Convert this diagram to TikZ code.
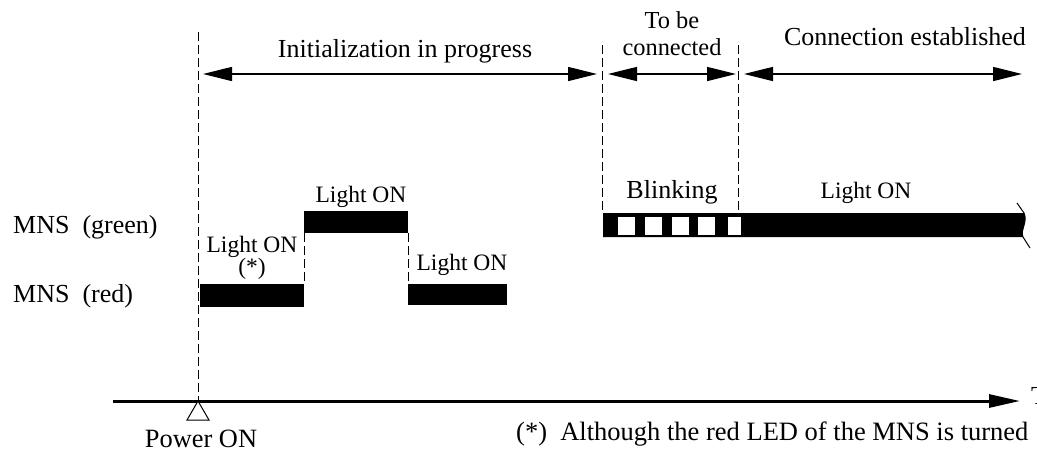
\documentclass[tikz,border=0pt]{standalone}
\usepackage{fontspec}
\setmainfont{Liberation Serif}
\usetikzlibrary{arrows.meta}
\begin{document}
\begin{tikzpicture}[x=1pt,y=-1pt,
  lbl/.style={font=\fontsize{26}{27}\selectfont, inner sep=0pt, anchor=base},
  small/.style={font=\fontsize{23.5}{19.5}\selectfont, inner sep=0pt, anchor=base},
  guide/.style={line width=1pt, dash pattern=on 9pt off 4pt},
  span/.style={line width=1.3pt, {Triangle[length=29pt,width=14pt]}-{Triangle[length=29pt,width=14pt]}},
  led/.style={fill=black, draw=none},
  sq/.style={fill=white, draw=none}]
\useasboundingbox (0,0) rectangle (1037,453);
% guide lines
\coordinate (p0) at (198,32);
\coordinate (p1) at (198,401);
\draw[guide] (p0) -- (p1);
\coordinate (c0) at (602,45);
\coordinate (c1) at (602,213);
\draw[guide] (c0) -- (c1);
\coordinate (e0) at (738,45);
\coordinate (e1) at (738,213);
\draw[guide] (e0) -- (e1);
% phase arrows
\coordinate (a1) at (203,74); \coordinate (a2) at (597,74);
\coordinate (b1) at (608,74); \coordinate (b2) at (736,74);
\coordinate (d1) at (744,74); \coordinate (d2) at (1022,74);
\draw[span] (a1) -- (a2);
\draw[span] (b1) -- (b2);
\draw[span] (d1) -- (d2);
\node[lbl] (tinit) at (405,57) {Initialization in progress};
\node[font=\fontsize{24.4}{27}\selectfont, inner sep=0pt, anchor=base, align=center] (tconn) at (672,55) {To be\\connected};
\node[lbl] (test) at (905,45) {Connection established};
% row labels
\node[lbl, anchor=base west] (green) at (13,233) {MNS\ \ (green)};
\node[lbl, anchor=base west] (red) at (13,302) {MNS\ \ (red)};
% red and green bars of initialization
\fill[led] (200,284) rectangle (304,307);
\fill[led] (304,211) rectangle (408,233);
\fill[led] (408,284) rectangle (507,305);
\coordinate (s1a) at (304,233); \coordinate (s1b) at (304,284);
\coordinate (s2a) at (408,233); \coordinate (s2b) at (408,284);
\draw[guide] (s1a) -- (s1b);
\draw[guide] (s2a) -- (s2b);
\node[small, align=center] (l1) at (252,274.5) {Light ON\\(*)};
\node[small] (l2) at (361,202) {Light ON};
\node[small] (l3) at (462,270) {Light ON};
% green bar connecting/established
\fill[led] (603,213) -- (1024,213) .. controls (1028,222) and (1020,230) .. (1023,237) -- (603,237) -- cycle;
\foreach \x in {618,645,672,698} \fill[sq] (\x,217) rectangle ++(17,18);
\fill[sq] (728,217) rectangle (741,235);
\draw[line width=1pt] (1017,203) -- (1024,213) .. controls (1028,222) and (1020,230) .. (1023,237) -- (1030,248);
\node[lbl] (l4) at (672,198) {Blinking};
\node[small] (l5) at (866,198) {Light ON};
% time axis
\coordinate (t0) at (113,401);
\coordinate (t1) at (1020,401);
\draw[line width=3pt, -{Triangle[length=31pt,width=13pt]}] (t0) -- (t1);
\draw[line width=1pt, fill=white] (p1) -- (209,420) -- (187,420) -- cycle;
\node[lbl, anchor=base west] (tm) at (1031,404) {T};
\node[font=\fontsize{26.4}{27}\selectfont, inner sep=0pt, anchor=base] (pon) at (201,447) {Power ON};
\node[font=\fontsize{26.5}{27}\selectfont, inner sep=0pt, anchor=base west] (note) at (516,440) {(*)\ \ Although the red LED of the MNS is turned};
\end{tikzpicture}
\end{document}
